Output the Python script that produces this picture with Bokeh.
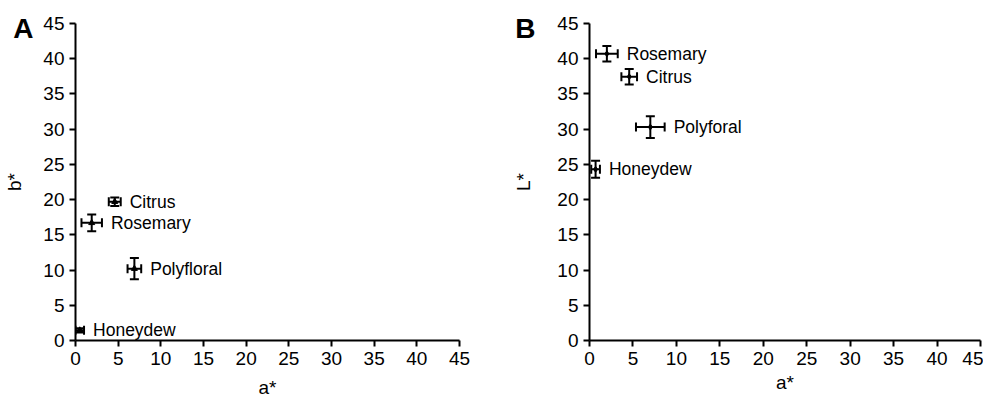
from bokeh.plotting import figure
from bokeh.models import (Whisker, TeeHead, ColumnDataSource, FixedTicker, Range1d,
                          LinearAxis)
from bokeh.layouts import row
from bokeh.embed import file_html
from bokeh.resources import INLINE
from bokeh.core.properties import value

# Panel A: a* vs b*
names_A = ["Citrus", "Rosemary", "Polyfloral", "Honeydew"]
a_A = [4.6, 1.9, 6.9, 0.5]
b_A = [19.7, 16.7, 10.2, 1.45]
a_err_A = [0.7, 1.2, 0.8, 0.5]
b_err_A = [0.6, 1.2, 1.5, 0.3]

# Panel B: a* vs L*
names_B = ["Rosemary", "Citrus", "Polyforal", "Honeydew"]
a_B = [2.0, 4.57, 7.0, 0.7]
L_B = [40.7, 37.45, 30.3, 24.3]
a_err_B = [1.25, 0.9, 1.65, 0.5]
L_err_B = [1.1, 1.1, 1.55, 1.2]

ticks = [0, 5, 10, 15, 20, 25, 30, 35, 40, 45]
x_title = "a*"
y_title_A = "b*"
y_title_B = "L*"
letter_pos = 44.3

FONT = "Liberation Sans"


def panel(names, xs, ys, xerr, yerr, ytitle, letter, marker, width, height,
          bl, br, bt, bb, xlab_standoff, letter_standoff, ylab_standoff):
    p = figure(width=width, height=height, output_backend="svg", toolbar_location=None,
               x_range=Range1d(0, 45), y_range=Range1d(0, 45),
               min_border_left=bl, min_border_right=br, min_border_top=bt,
               min_border_bottom=bb)
    p.outline_line_color = None
    p.grid.visible = False
    p.background_fill_color = "white"
    p.border_fill_color = "white"
    for ax in (p.xaxis[0], p.yaxis[0]):
        ax.ticker = FixedTicker(ticks=ticks)
        ax.axis_line_width = 2
        ax.axis_line_color = "black"
        ax.major_tick_line_width = 2
        ax.major_tick_line_color = "black"
        ax.major_tick_out = 6
        ax.major_tick_in = 0
        ax.minor_tick_line_color = None
        ax.major_label_text_font = FONT
        ax.major_label_text_font_size = "19px"
        ax.major_label_text_color = "black"
        ax.major_label_standoff = 5
        ax.axis_label_text_font = FONT
        ax.axis_label_text_font_size = "19px"
        ax.axis_label_text_font_style = "normal"
        ax.axis_label_text_color = "black"
    p.xaxis.axis_label = x_title
    p.xaxis.axis_label_standoff = xlab_standoff

    # outer left axis carrying the panel letter and the y title
    lax = LinearAxis(ticker=FixedTicker(ticks=[letter_pos]),
                     major_label_overrides={letter_pos: letter},
                     axis_line_color=None, major_tick_line_color=None,
                     minor_tick_line_color=None, major_tick_out=0, major_tick_in=0,
                     major_label_text_font=FONT, major_label_text_font_size="28px",
                     major_label_text_font_style="bold", major_label_text_color="black",
                     major_label_standoff=letter_standoff,
                     axis_label=ytitle, axis_label_standoff=ylab_standoff,
                     axis_label_text_font=FONT, axis_label_text_font_size="19px",
                     axis_label_text_font_style="normal", axis_label_text_color="black")
    p.add_layout(lax, "left")

    src = ColumnDataSource(dict(
        name=names, x=xs, y=ys,
        xl=[x - e for x, e in zip(xs, xerr)], xu=[x + e for x, e in zip(xs, xerr)],
        yl=[y - e for y, e in zip(ys, yerr)], yu=[y + e for y, e in zip(ys, yerr)],
    ))
    p.add_layout(Whisker(source=src, base="y", lower="xl", upper="xu", dimension="width",
                         line_width=2, line_color="black",
                         lower_head=TeeHead(size=9, line_width=2, line_color="black"),
                         upper_head=TeeHead(size=9, line_width=2, line_color="black")))
    p.add_layout(Whisker(source=src, base="x", lower="yl", upper="yu", dimension="height",
                         line_width=2, line_color="black",
                         lower_head=TeeHead(size=9, line_width=2, line_color="black"),
                         upper_head=TeeHead(size=9, line_width=2, line_color="black")))
    p.scatter("x", "y", source=src, marker=marker, size=6, color="black")
    p.text(x="xu", y="y", text="name", source=src, x_offset=9,
           text_font=value(FONT), text_font_size="17.5px", text_baseline="middle",
           text_align="left", text_color="black")
    return p


pA = panel(names_A, a_A, b_A, a_err_A, b_err_A, y_title_A, "A", "triangle",
           500, 404, 75, 41, 20, 64, 9, 7, -15)
pB = panel(names_B, a_B, L_B, a_err_B, L_err_B, y_title_B, "B", "diamond",
           483, 404, 89, 3, 23, 59, 4, 19, -22)

layout = row(pA, pB)
open("out.html", "w").write(file_html(layout, INLINE))
